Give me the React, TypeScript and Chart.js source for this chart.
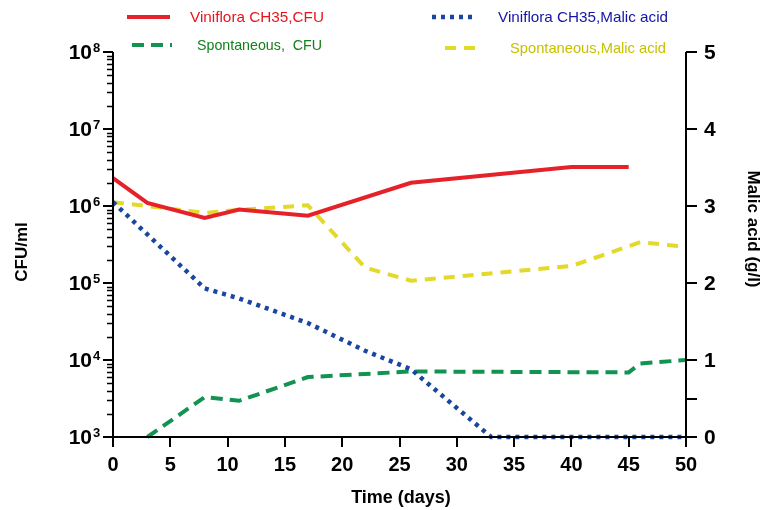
import React, { useEffect, useRef } from "react";
import { Chart, registerables } from "chart.js";

Chart.register(...registerables);

// ---- data ----
const redDays = [0, 3, 8, 11, 17, 26, 40, 45];
const redCFU = [2.3e6, 1.1e6, 7.0e5, 9.0e5, 7.5e5, 2.0e6, 3.2e6, 3.2e6];

const greenDays = [3, 8, 11, 17, 26, 45, 46, 50];
const greenCFU = [1000, 3300, 2950, 6000, 7100, 6900, 9000, 10000];

const blueDays = [0, 8, 11, 17, 22, 26, 33, 40, 45, 50];
const blueMalic = [3.05, 1.93, 1.8, 1.48, 1.12, 0.88, 0, 0, 0, 0];

const yellowDays = [0, 3, 8, 11, 17, 22, 26, 40, 46, 50];
const yellowMalic = [3.05, 3.0, 2.91, 2.95, 3.01, 2.2, 2.03, 2.22, 2.53, 2.47];

const seriesLabels = [
  "Viniflora CH35,CFU",
  "Viniflora CH35,Malic acid",
  "Spontaneous,  CFU",
  "Spontaneous,Malic acid",
];
const xTicks = [0, 5, 10, 15, 20, 25, 30, 35, 40, 45, 50];
const leftExponents = [3, 4, 5, 6, 7, 8];
const rightTicks = [0, 1, 2, 3, 4, 5];
const rightMinorTicks = [0.5];
const xTitle = "Time (days)";
const leftTitle = "CFU/ml";
const rightTitle = "Malic acid (g/l)";

const FONT = "'Liberation Sans', Arial, sans-serif";

const pts = (xs: number[], ys: number[]) => xs.map((x, i) => ({ x, y: ys[i] }));

const textColors = ["#e8141c", "#1414a8", "#13801c", "#c8c000"];
// legend placement: [lineStart, lineEnd, textStart, textEnd, y]
const legendSlots = [
  [127, 170, 190, 324, 17],
  [432, 473, 498, 668, 17],
  [132, 172, 197, 322, 45],
  [445, 481, 510, 666, 48],
];

const overlay = {
  id: "overlay",
  afterDraw(chart: any) {
    const ctx: CanvasRenderingContext2D = chart.ctx;
    const xs = chart.scales.x;
    const yl = chart.scales.y;
    const yr = chart.scales.y2;
    const a = chart.chartArea;
    ctx.save();
    ctx.strokeStyle = "#000";
    ctx.fillStyle = "#000";
    ctx.lineWidth = 2;
    ctx.lineCap = "butt";
    // axis lines
    ctx.beginPath();
    ctx.moveTo(a.left, a.top);
    ctx.lineTo(a.left, a.bottom + 10);
    ctx.moveTo(a.right, a.top);
    ctx.lineTo(a.right, a.bottom + 10);
    ctx.moveTo(a.left - 10, a.bottom);
    ctx.lineTo(a.right + 10, a.bottom);
    ctx.stroke();

    // x ticks
    ctx.beginPath();
    xTicks.forEach((v) => {
      const px = Math.round(xs.getPixelForValue(v));
      ctx.moveTo(px, a.bottom);
      ctx.lineTo(px, a.bottom + 10);
    });
    ctx.stroke();

    // left ticks
    ctx.beginPath();
    leftExponents.forEach((e) => {
      const p = Math.round(yl.getPixelForValue(Math.pow(10, e)));
      ctx.moveTo(a.left - 10, p);
      ctx.lineTo(a.left, p);
    });
    ctx.stroke();
    ctx.lineWidth = 1.5;
    ctx.beginPath();
    leftExponents.forEach((e, i) => {
      if (i === leftExponents.length - 1) return;
      for (let k = 2; k <= 9; k++) {
        const p = Math.round(yl.getPixelForValue(k * Math.pow(10, e))) + 0.5;
        ctx.moveTo(a.left - 6, p);
        ctx.lineTo(a.left, p);
      }
    });
    ctx.stroke();

    // right ticks
    ctx.lineWidth = 2;
    ctx.beginPath();
    [...rightTicks, ...rightMinorTicks].forEach((v) => {
      const p = Math.round(yr.getPixelForValue(v));
      ctx.moveTo(a.right, p);
      ctx.lineTo(a.right + 11, p);
    });
    ctx.stroke();

    // left labels 10^n
    leftExponents.forEach((e) => {
      const p = yl.getPixelForValue(Math.pow(10, e));
      ctx.font = `bold 21px ${FONT}`;
      ctx.textAlign = "right";
      ctx.textBaseline = "alphabetic";
      ctx.fillText("10", 92, p + 7);
      ctx.font = `bold 13px ${FONT}`;
      ctx.textAlign = "left";
      ctx.fillText(String(e), 93, p);
    });

    // right labels
    ctx.font = `bold 21px ${FONT}`;
    ctx.textAlign = "left";
    ctx.textBaseline = "middle";
    rightTicks.forEach((v) => {
      const p = yr.getPixelForValue(v);
      ctx.fillText(String(v), 704, p + 1);
    });

    // x labels
    ctx.font = `bold 20px ${FONT}`;
    ctx.textAlign = "center";
    ctx.textBaseline = "middle";
    xTicks.forEach((v) => {
      ctx.fillText(String(v), xs.getPixelForValue(v), 465);
    });

    // titles
    ctx.font = `bold 18px ${FONT}`;
    ctx.fillText(xTitle, 401, 498);
    ctx.save();
    ctx.translate(22, 252);
    ctx.rotate(-Math.PI / 2);
    ctx.font = `bold 17px ${FONT}`;
    ctx.fillText(leftTitle, 0, 0);
    ctx.restore();
    ctx.save();
    ctx.translate(753, 229);
    ctx.rotate(Math.PI / 2);
    ctx.font = `bold 17px ${FONT}`;
    const tw = ctx.measureText(rightTitle).width;
    ctx.scale(117 / tw, 1);
    ctx.fillText(rightTitle, 0, 0);
    ctx.restore();

    // legend
    chart.data.datasets.forEach((ds: any, i: number) => {
      const [l0, l1, t0, t1, y] = legendSlots[i];
      ctx.save();
      ctx.strokeStyle = ds.borderColor;
      ctx.lineWidth = ds.borderWidth;
      ctx.setLineDash(ds.borderDash || []);
      ctx.beginPath();
      ctx.moveTo(l0, y);
      ctx.lineTo(l1, y);
      ctx.stroke();
      ctx.setLineDash([]);
      ctx.font = `15px ${FONT}`;
      const w = ctx.measureText(ds.label).width;
      ctx.translate(t0, y);
      ctx.scale((t1 - t0) / w, 1);
      ctx.fillStyle = textColors[i];
      ctx.textAlign = "left";
      ctx.textBaseline = "middle";
      ctx.fillText(ds.label, 0, 1);
      ctx.restore();
    });
    ctx.restore();
  },
};

export default function App() {
  const ref = useRef<HTMLCanvasElement>(null);
  useEffect(() => {
    if (!ref.current) return;
    const chart = new Chart(ref.current, {
      type: "line",
      data: {
        datasets: [
          {
            label: seriesLabels[0],
            data: pts(redDays, redCFU),
            yAxisID: "y",
            borderColor: "#e52229",
            borderWidth: 4,
            borderDash: [],
          },
          {
            label: seriesLabels[1],
            data: pts(blueDays, blueMalic),
            yAxisID: "y2",
            borderColor: "#1846a0",
            borderWidth: 4.5,
            borderDash: [4, 5],
          },
          {
            label: seriesLabels[2],
            data: pts(greenDays, greenCFU),
            yAxisID: "y",
            borderColor: "#129352",
            borderWidth: 4,
            borderDash: [12, 7],
          },
          {
            label: seriesLabels[3],
            data: pts(yellowDays, yellowMalic),
            yAxisID: "y2",
            borderColor: "#e2d92a",
            borderWidth: 4,
            borderDash: [11, 8],
          },
        ] as any,
      },
      options: {
        animation: false,
        responsive: false,
        elements: {
          point: { radius: 0, hoverRadius: 0 },
          line: { tension: 0, fill: false, borderCapStyle: "butt" },
        },
        layout: { padding: { left: 113, right: 80, top: 52, bottom: 73 } },
        plugins: { legend: { display: false }, tooltip: { enabled: false }, title: { display: false } },
        datasets: { line: { clip: 8 } } as any,
        scales: {
          x: {
            type: "linear",
            min: 0,
            max: 50,
            grid: { display: false, drawTicks: false },
            border: { display: false },
            ticks: { display: false },
          },
          y: {
            type: "logarithmic",
            position: "left",
            min: 1e3,
            max: 1e8,
            grid: { display: false, drawTicks: false },
            border: { display: false },
            ticks: { display: false },
          },
          y2: {
            type: "linear",
            position: "right",
            min: 0,
            max: 5,
            grid: { display: false, drawTicks: false },
            border: { display: false },
            ticks: { display: false },
          },
        },
      },
      plugins: [overlay],
    });
    return () => chart.destroy();
  }, []);
  return (
    <div style={{ position: "fixed", left: 0, top: 0, width: 766, height: 510, background: "#fff" }}>
      <canvas ref={ref} width={766} height={510} style={{ display: "block" }} />
    </div>
  );
}
